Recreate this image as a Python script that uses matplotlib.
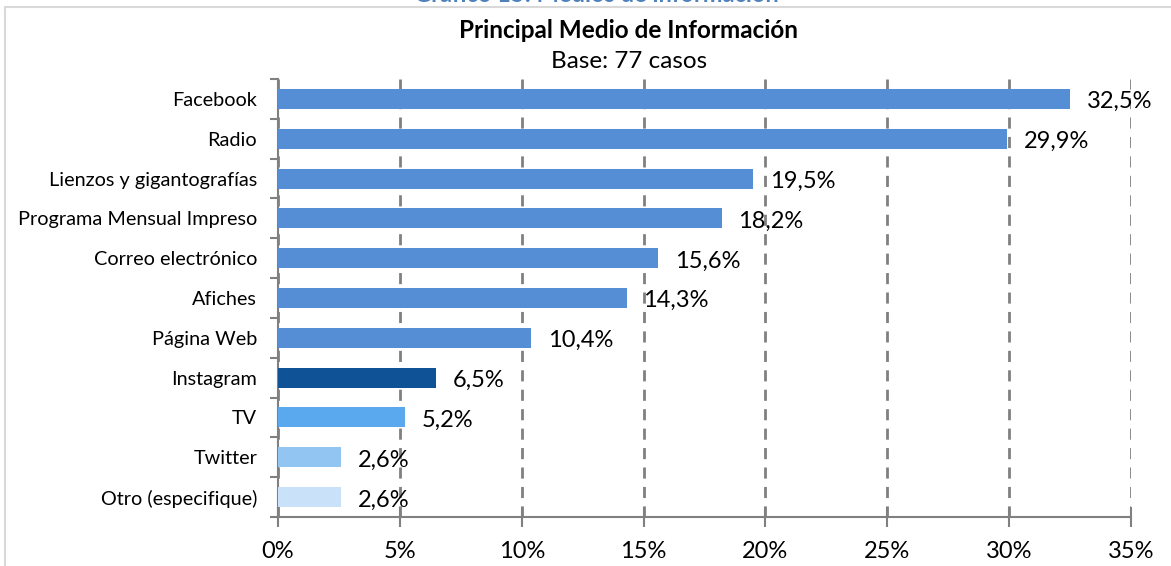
import numpy as np
import matplotlib
matplotlib.use("Agg")
import matplotlib.pyplot as plt
from matplotlib.patches import Rectangle

# ==== DATA ====
categories = ["Facebook", "Radio", "Lienzos y gigantografías", "Programa Mensual Impreso",
              "Correo electrónico", "Afiches", "Página Web", "Instagram", "TV",
              "Twitter", "Otro (especifique)"]
values = [32.5, 29.9, 19.5, 18.2, 15.6, 14.3, 10.4, 6.5, 5.2, 2.6, 2.6]
bar_colors = ["#558ED5"] * 7 + ["#0F5296", "#5AA9EE", "#93C5F3", "#C9E2FA"]
x_ticks = [0, 5, 10, 15, 20, 25, 30, 35]

plt.rcParams['font.family'] = ['Lato', 'DejaVu Sans']

fig = plt.figure(figsize=(11.71, 5.66), dpi=100)
ax = fig.add_axes([0.2374, 0.0866, 0.9659 - 0.2374, 0.8604 - 0.0866])

y = np.arange(len(categories))
ax.barh(y, values, height=0.5, color=bar_colors, zorder=3)
ax.set_ylim(len(categories) - 0.5, -0.5)
ax.set_xlim(0, 35)

# data labels
for yi, v in zip(y, values):
    ax.annotate(f"{v:.1f}%".replace(".", ","), (v, yi), xytext=(12, -2),
                textcoords="offset points", va="center", ha="left",
                fontsize=17, color="black", zorder=4)

# axes & grid
ax.set_xticks(x_ticks)
ax.set_xticklabels([f"{t}%" for t in x_ticks], fontsize=17)
ax.set_yticks(y)
ax.set_yticklabels(categories, fontsize=14.3)
ax.tick_params(axis="y", length=0, pad=15)
ax.set_yticks(np.arange(-0.5, len(categories)), minor=True)
ax.tick_params(axis="y", which="minor", length=6, direction="out", color="#808080", width=1.5)
ax.tick_params(axis="x", length=14, direction="inout", color="#808080", width=1.5, pad=10)
ax.xaxis.grid(True, linestyle=(0, (4, 3)), color="#808080", linewidth=2, zorder=0)
for s in ["top", "right"]:
    ax.spines[s].set_visible(False)
for s in ["left", "bottom"]:
    ax.spines[s].set_color("#808080")
    ax.spines[s].set_linewidth(1.5)

# frame and titles
fig.add_artist(Rectangle((5 / 1171, -0.01), 1.2, 1 - 7 / 566 + 0.01, transform=fig.transFigure,
                         fill=False, edgecolor="#D9D9D9", linewidth=1.5))
fig.text(0.509, 1 - 1.5 / 566, "Gráfico 15: Medios de información", ha="center", va="baseline",
         fontsize=17, fontweight="bold", color="#4F81BD")
fig.text(0.537, 1 - 30 / 566, "Principal Medio de Información", ha="center", va="center",
         fontsize=17.5, fontweight="bold")
fig.text(0.537, 1 - 62 / 566, "Base: 77 casos", ha="center", va="center", fontsize=17.5)

fig.savefig("out.png", dpi=100)
